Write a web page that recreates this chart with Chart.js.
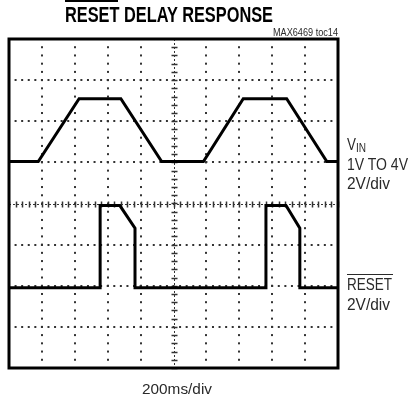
<!DOCTYPE html>
<html>
<head>
<meta charset="utf-8">
<script src="https://cdn.jsdelivr.net/npm/chart.js@4"></script>
<style>
  html, body { margin: 0; padding: 0; background: #fff; }
  #wrap { position: relative; width: 410px; height: 404px; overflow: hidden; }
  #scope { position: absolute; left: 0; top: 0; }
  .lbl { position: absolute; font-family: "Liberation Sans", Arial, sans-serif; color: #2a2a2a; white-space: nowrap; line-height: 1; transform-origin: 0 0; }
  .bar { position: absolute; background: #2a2a2a; height: 1px; }
  #title { left: 65px; top: 4px; font-size: 22px; font-weight: bold; color: #000; }
  #toc { left: 273px; top: 27px; font-size: 10.5px; }
  #xlab { left: 142px; top: 381px; font-size: 15.5px; }
  .side { left: 347px; font-size: 16px; }
</style>
</head>
<body>
<div id="wrap">
  <canvas id="scope" width="410" height="404"></canvas>
  <div class="bar" style="left:65px;top:0px;width:53px;height:2px;background:#000"></div>
  <div class="lbl" id="title" data-w="208">RESET DELAY RESPONSE</div>
  <div class="lbl" id="toc" data-w="65">MAX6469 toc14</div>
  <div class="lbl side" style="top:137px" data-w="19">V<span style="font-size:12px;position:relative;top:2px">IN</span></div>
  <div class="lbl side" style="top:157px" data-w="61">1V TO 4V</div>
  <div class="lbl side" style="top:176px" data-w="43">2V/div</div>
  <div class="bar" style="left:347px;top:274px;width:46px"></div>
  <div class="lbl side" style="top:277px" data-w="45">RESET</div>
  <div class="lbl side" style="top:297px" data-w="43">2V/div</div>
  <div class="lbl" id="xlab" data-w="70">200ms/div</div>
</div>
<script>
// time axis in ms (200ms/div, 10 div), vertical in divisions (8 div, centre = 0)
const xDivs = [0, 200, 400, 600, 800, 1000, 1200, 1400, 1600, 1800, 2000];
const yDivs = [-4, -3, -2, -1, 0, 1, 2, 3, 4];

// VIN trace (1V to 4V ramp)
const vinTime  = [0, 178, 426, 680, 928, 1182, 1424, 1688, 1932, 2000];
const vinLevel = [1.02, 1.02, 2.55, 2.55, 1.02, 1.02, 2.55, 2.55, 1.02, 1.02];

// RESET output trace
const resetTime  = [0, 554, 554, 674, 766, 766, 1562, 1562, 1684, 1768, 1768, 2000];
const resetLevel = [-2.05, -2.05, -0.05, -0.05, -0.6, -2.05, -2.05, -0.05, -0.05, -0.6, -2.05, -2.05];

const toPoints = (xs, ys) => xs.map((x, i) => ({ x: x, y: ys[i] }));

// squeeze labels to the condensed look of the original
document.querySelectorAll('.lbl[data-w]').forEach(el => {
  const w = el.getBoundingClientRect().width;
  el.style.transform = 'scaleX(' + (parseFloat(el.dataset.w) / w) + ')';
});

// scope graticule: dotted divisions, ticked centre axes, heavy frame
const graticule = {
  id: 'graticule',
  beforeDatasetsDraw(chart) {
    const c = chart.ctx;
    const xs = chart.scales.x, ys = chart.scales.y;
    c.save();
    c.fillStyle = '#333';
    // vertical dotted lines
    xDivs.forEach(v => {
      if (v === 0 || v === 2000 || v === 1000) return;
      const px = Math.round(xs.getPixelForValue(v));
      for (let s = -4; s <= 4; s += 0.2) {
        const py = ys.getPixelForValue(s);
        c.fillRect(px - 1, py - 1, 2, 2);
      }
    });
    // horizontal dotted lines
    yDivs.forEach(v => {
      if (v === -4 || v === 4 || v === 0) return;
      const py = Math.round(ys.getPixelForValue(v));
      for (let s = 0; s <= 2000; s += 40) {
        const px = xs.getPixelForValue(s);
        c.fillRect(px - 1, py - 1, 2, 2);
      }
    });
    // centre axes with minor ticks
    c.strokeStyle = '#333';
    c.lineWidth = 1;
    const cx = Math.round(xs.getPixelForValue(1000)) + 0.5;
    const cy = Math.round(ys.getPixelForValue(0)) + 0.5;
    c.setLineDash([2, 2]);
    c.beginPath();
    c.moveTo(cx, chart.chartArea.top); c.lineTo(cx, chart.chartArea.bottom);
    c.moveTo(chart.chartArea.left, cy); c.lineTo(chart.chartArea.right, cy);
    c.stroke();
    c.setLineDash([]);
    c.lineWidth = 1.5;
    c.beginPath();
    for (let s = -4; s <= 4; s += 0.2) {
      const py = Math.round(ys.getPixelForValue(s)) + 0.5;
      c.moveTo(cx - 3, py); c.lineTo(cx + 3, py);
    }
    for (let s = 0; s <= 2000; s += 40) {
      const px = Math.round(xs.getPixelForValue(s)) + 0.5;
      c.moveTo(px, cy - 3); c.lineTo(px, cy + 3);
    }
    c.stroke();
    c.restore();
  },
  afterDraw(chart) {
    const c = chart.ctx, a = chart.chartArea;
    c.save();
    c.strokeStyle = '#000';
    c.lineWidth = 3;
    c.strokeRect(a.left, a.top, a.right - a.left, a.bottom - a.top);
    c.restore();
  }
};

new Chart(document.getElementById('scope').getContext('2d'), {
  type: 'line',
  data: {
    datasets: [
      {
        label: 'VIN',
        data: toPoints(vinTime, vinLevel),
        borderColor: '#000',
        borderWidth: 3,
        pointRadius: 0,
        tension: 0
      },
      {
        label: 'RESET',
        data: toPoints(resetTime, resetLevel),
        borderColor: '#000',
        borderWidth: 3,
        pointRadius: 0,
        tension: 0
      }
    ]
  },
  options: {
    responsive: false,
    animation: false,
    layout: { padding: { left: 9, top: 39, right: 72, bottom: 36 } },
    plugins: { legend: { display: false }, tooltip: { enabled: false } },
    scales: {
      x: { type: 'linear', min: 0, max: 2000, display: false },
      y: { type: 'linear', min: -4, max: 4, display: false }
    }
  },
  plugins: [graticule]
});
</script>
</body>
</html>
